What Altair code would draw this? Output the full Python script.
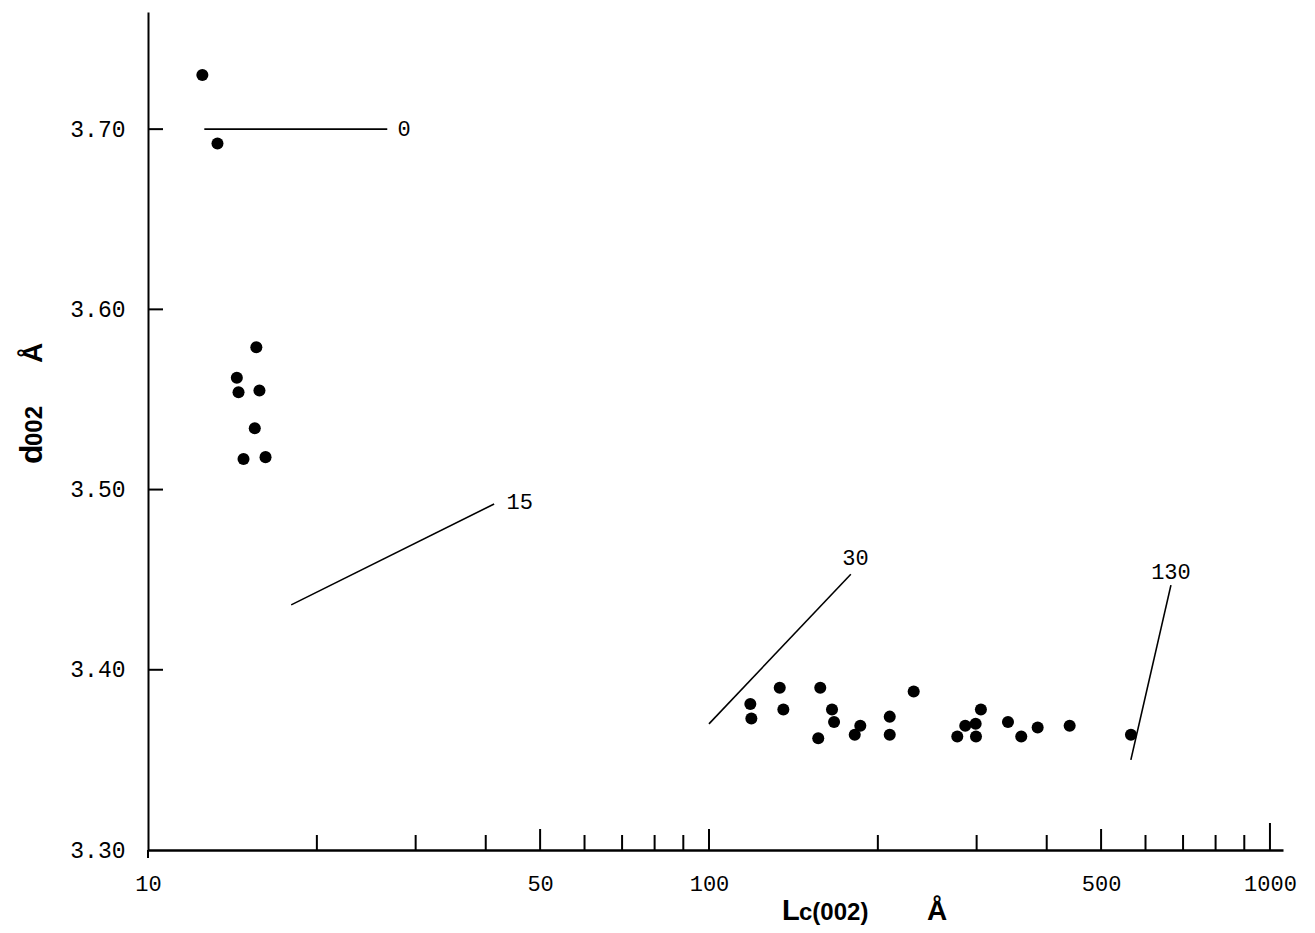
import altair as alt
import pandas as pd

# measured points: crystallite size Lc(002) vs interlayer spacing d002
lc = [12.5, 13.3, 15.6, 14.4, 14.5, 15.8, 15.5, 14.8, 16.2,
      118.5, 119.0, 133.7, 135.7, 157.9, 156.6, 165.7, 167.1, 186.1, 181.9,
      210.0, 210.0, 231.7, 305.3, 286.3, 298.8, 277.1, 299.2, 341.2, 360.3,
      385.4, 439.5, 565.2]
d002 = [3.730, 3.692, 3.579, 3.562, 3.554, 3.555, 3.534, 3.517, 3.518,
        3.381, 3.373, 3.390, 3.378, 3.390, 3.362, 3.378, 3.371, 3.369, 3.364,
        3.374, 3.364, 3.388, 3.378, 3.369, 3.370, 3.363, 3.363, 3.371, 3.363,
        3.368, 3.369, 3.364]

# labelled guide lines
line_label = ["0", "15", "30", "130"]
line_lc0 = [12.6, 18.0, 100.0, 565.0]
line_lc1 = [26.7, 41.4, 179.0, 666.0]
line_d0 = [3.700, 3.436, 3.370, 3.350]
line_d1 = [3.700, 3.492, 3.453, 3.447]
label_lc = [28.6, 46.0, 182.4, 666.0]
label_d = [3.700, 3.493, 3.462, 3.454]

# axis ticks
x_minor = [20, 30, 40, 60, 70, 80, 90, 200, 300, 400, 600, 700, 800, 900]
x_major = [50, 100, 500]
x_end = [1000]
x_labels = [10, 50, 100, 500, 1000]
y_ticks = [3.40, 3.50, 3.60, 3.70]
y_labels = [3.30, 3.40, 3.50, 3.60, 3.70]

W, H = 1135, 838
MONO = "Liberation Mono"
BOLD = "Liberation Sans"

xscale = alt.Scale(type="log", domain=[10, 1055], nice=False)
yscale = alt.Scale(domain=[3.30, 3.765], nice=False, zero=False)
xaxis = alt.Axis(values=x_labels, format="d", title="", grid=False, ticks=False,
                 tickSize=0, domainColor="black", domainWidth=2.5, labelFont=MONO,
                 labelFontSize=22, labelColor="black", labelPadding=23,
                 labelFlush=False, labelOverlap=False)
yaxis = alt.Axis(values=y_labels, title="", grid=False, ticks=False, tickSize=0,
                 format=".2f", domainColor="black", domainWidth=2,
                 labelFont=MONO, labelFontSize=23, labelColor="black",
                 labelPadding=23, labelFlush=False, labelOverlap=False)


def X(f="lc"):
    return alt.X(f"{f}:Q", scale=xscale, axis=xaxis)


def Y(f="d"):
    return alt.Y(f"{f}:Q", scale=yscale, axis=yaxis)


pts = pd.DataFrame({"lc": lc, "d": d002})
segs = pd.DataFrame({"lc": line_lc0, "lc2": line_lc1, "d": line_d0, "d2": line_d1})
labs = pd.DataFrame({"lc": label_lc, "d": label_d, "t": line_label})

points = alt.Chart(pts).mark_circle(size=145, color="black", opacity=1).encode(
    x=X(), y=Y())

lines = alt.Chart(segs).mark_rule(color="black", strokeWidth=1.6).encode(
    x=X(), x2="lc2:Q", y=Y(), y2="d2:Q")

labels = alt.Chart(labs).mark_text(font=MONO, fontSize=22, color="black",
                                   align="center", baseline="middle").encode(
    x=X(), y=Y(), text="t:N")

def xticks(vals, length):
    return alt.Chart(pd.DataFrame({"lc": vals})).mark_rule(
        color="black", strokeWidth=2).encode(
        x=X(), y=alt.value(H), y2=alt.value(H - length))

ticks_minor = xticks(x_minor, 15)
ticks_major = xticks(x_major, 21)
ticks_end = xticks(x_end, 27)

yt = alt.Chart(pd.DataFrame({"d": y_ticks})).mark_rule(
    color="black", strokeWidth=2).encode(
    y=Y(), x=alt.value(0), x2=alt.value(15))

# y axis runs a little below the x axis
ystub = alt.Chart(pd.DataFrame({"a": [0]})).mark_rule(
    color="black", strokeWidth=2).encode(
    x=alt.value(0), y=alt.value(H), y2=alt.value(H + 8))


def txt(s, x, y, size, angle=0):
    return alt.Chart(pd.DataFrame({"t": [s]})).mark_text(
        font=BOLD, fontWeight="bold", fontSize=size, color="black",
        align="left", baseline="alphabetic", angle=angle).encode(
        x=alt.value(x), y=alt.value(y), text="t:N")

# axis titles built from pieces so the subscripts are smaller
xt_L = txt("L", 782 - 148, 920 - 12, 29)
xt_c = txt("c(002)", 799 - 148, 920 - 12, 24)
xt_A = txt("Å", 927 - 148, 920 - 12, 28)
yt_d = txt("d", 42 - 148, 464 - 12, 32, 270)
yt_0 = txt("002", 42 - 148, 446 - 12, 24, 270)
yt_A = txt("Å", 42 - 148, 363 - 12, 28, 270)

chart = alt.layer(
    lines, labels, ticks_minor, ticks_major, ticks_end, yt, ystub, points,
    xt_L, xt_c, xt_A, yt_d, yt_0, yt_A
).properties(
    width=W, height=H,
    autosize=alt.AutoSizeParams(type="none"),
    padding={"left": 140, "top": 4, "right": 20, "bottom": 75},
    background="white"
).configure_view(stroke=None)

chart.save("out.html", embed_options={"renderer": "svg", "actions": False})
